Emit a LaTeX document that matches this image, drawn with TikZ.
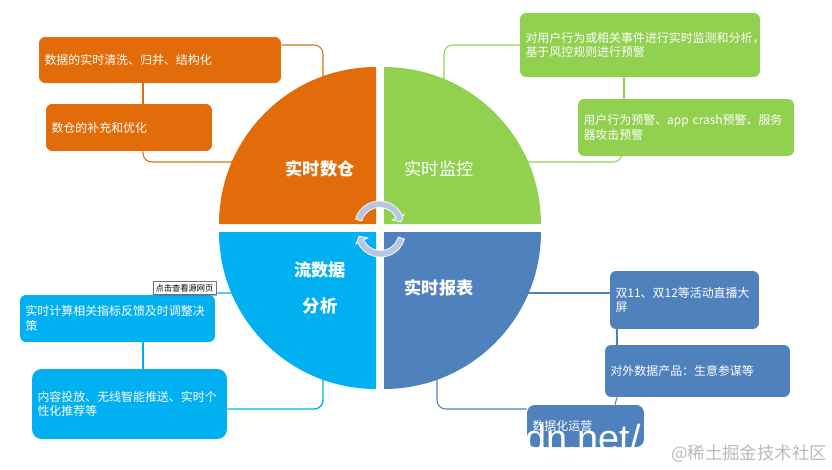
\documentclass[tikz,border=0pt]{standalone}
\usepackage{fontspec}
\setmainfont{Noto Sans CJK SC}
\newfontfamily\latinfont{Liberation Sans}
\usepackage{tikz}
\usetikzlibrary{calc,positioning,shadows}
\definecolor{cangorange}{HTML}{E36C0A}
\definecolor{jiankonggreen}{HTML}{92D050}
\definecolor{fenxiblue}{HTML}{00B0F0}
\definecolor{baobiaoblue}{HTML}{4F81BD}
\definecolor{cyclegray}{HTML}{B8C6E0}
\pgfdeclarelayer{background}
\pgfsetlayers{background,main}
\tikzset{
    topicbox/.style={
        rectangle,
        rounded corners=3.5pt,
        inner xsep=0.11cm,
        inner ysep=0pt,
        align=left,
        text=white,
        font={\fontsize{6.8pt}{8.2pt}\selectfont}
    },
    hublabel/.style={
        text=white,
        align=center,
        font={\fontsize{9.8pt}{12pt}\selectfont}
    },
    link/.style={draw, rounded corners=5pt, line width=0.6pt},
    cyclearrow/.style={fill=cyclegray, draw=white, line width=0.4pt},
}

\begin{document}
\begin{tikzpicture}[x=0.02cm,y=-0.02cm]
\useasboundingbox (0,0) rectangle (832,470);

% four quarters
\fill[cangorange] (376,224) -- (219,224) arc[start angle=180,end angle=270,radius=157] -- cycle;
\fill[jiankonggreen] (384,224) -- (384,67) arc[start angle=270,end angle=360,radius=157] -- cycle;
\fill[fenxiblue] (376,232) -- (376,389) arc[start angle=90,end angle=180,radius=157] -- cycle;
\fill[baobiaoblue] (384,232) -- (541,232) arc[start angle=0,end angle=90,radius=157] -- cycle;

\node[hublabel] (cang) at (320,169) {\textbf{实时数仓}};
\node[hublabel] (jiankong) at (439,169) {实时监控};
\node[hublabel] (fenxi) at (320,288) {\textbf{流数据}\\[9pt]\textbf{分析}};
\node[hublabel] (baobiao) at (439,288) {\textbf{实时报表}};

% orange side
\node[topicbox,fill=cangorange,text width=4.62cm,minimum height=0.92cm] (cang1) at (160,60) {数据的实时清洗、归并、结构化};
\node[topicbox,fill=cangorange,text width=3.10cm,minimum height=0.94cm] (cang2) at (129,127.5) {数仓的补充和优化};
\coordinate (cangA) at (323,80);
\coordinate (cangB) at (235,162);

% green side
\node[topicbox,fill=jiankonggreen,text width=4.58cm,minimum height=1.28cm] (jiankong1) at (640,45) {对用户行为或相关事件进行实时监测和分析，\\基于风控规则进行预警};
\node[topicbox,fill=jiankonggreen,text width=4.10cm,minimum height=1.14cm] (jiankong2) at (686,127.5) {用户行为预警、app crash预警、服务\\器攻击预警};
\coordinate (jiankongA) at (444,80);
\coordinate (jiankongB) at (525,162);

% blue side
\node[topicbox,fill=fenxiblue,text width=3.68cm,minimum height=0.94cm] (fenxi1) at (117.5,318.5) {实时计算相关指标反馈及时调整决\\策};
\node[topicbox,fill=fenxiblue,rounded corners=5.5pt,text width=3.68cm,minimum height=1.40cm] (fenxi2) at (129.5,404) {内容投放、无线智能推送、实时个\\性化推荐等};
\coordinate (fenxiA) at (235,293);
\coordinate (fenxiB) at (323,378);

% steel blue side
\node[topicbox,fill=baobiaoblue,text width=2.76cm,minimum height=1.16cm] (baobiao1) at (684.5,300) {双11、双12等活动直播大\\屏};
\node[topicbox,fill=baobiaoblue,text width=3.48cm,minimum height=1.04cm] (baobiao2) at (697.5,371) {对外数据产品：生意参谋等};
\node[topicbox,fill=baobiaoblue,rounded corners=4.5pt,text width=2.12cm,minimum height=0.84cm] (baobiao3) at (585.5,426) {数据化运营};
\coordinate (baobiaoA) at (525,293);
\coordinate (baobiaoB) at (437,378);

\begin{pgfonlayer}{background}
\draw[link,cangorange] (cangA) |- (cang1.east |- 0,45);
\draw[link,cangorange] (cang1.south -| 143,0) -- (cang2.north -| 143,0);
\draw[link,cangorange] (cang2.south -| 143,0) |- (cangB);

\draw[link,jiankonggreen] (jiankongA) |- (jiankong1.west |- 0,45);
\draw[link,jiankonggreen] (jiankong1.south -| 624,0) -- (jiankong2.north -| 624,0);
\draw[link,jiankonggreen] (jiankong2.south -| 622,0) |- (jiankongB);

\draw[link,fenxiblue,line width=0.8pt] (fenxi1.north -| 150,0) |- (fenxiA);
\draw[link,fenxiblue,line width=0.8pt] (fenxi1.south -| 143,0) -- (fenxi2.north -| 143,0);
\draw[link,fenxiblue,line width=0.8pt] (fenxiB) |- (fenxi2.east |- 0,409);

\draw[link,baobiaoblue] (baobiaoA) -- (baobiao1.west |- baobiaoA);
\draw[link,baobiaoblue] (baobiao1.south -| 617,0) -- (baobiao2.north -| 617,0);
\draw[link,baobiaoblue] (baobiao2.south -| 617,0) -- (baobiao3.north -| 615,0);
\draw[link,baobiaoblue] (baobiaoB) |- (baobiao3.west |- 0,409);
\end{pgfonlayer}

% two round arrows in the middle
\foreach \turn in {0,180} {
  \begin{scope}[rotate around={\turn:(380,229)}]
    \path[cyclearrow] (355.5,219) arc[start angle=196,end angle=335,radius=25]
      -- (404,214) -- (401,222) -- (392,220)
      -- (396.3,218.2) arc[start angle=335,end angle=196,radius=18.5] -- cycle;
  \end{scope}
}

\node[draw=black!55,fill=white,drop shadow={shadow xshift=0.6pt,shadow yshift=-0.6pt,fill=black!60},inner sep=0pt,minimum width=1.26cm,minimum height=0.26cm,font={\fontsize{4.7pt}{5pt}\selectfont}] (tip) at (184.5,288) {点击查看源网页};

\node[text=white,inner sep=0pt,anchor=base west,font={\latinfont\fontsize{21.5pt}{24pt}\selectfont}] (urlmark) at (525,451) {dn.net/};
\node[text=black!27,inner sep=0pt,font={\fontsize{9.9pt}{12pt}\selectfont}] (juejin) at (749,454) {@稀土掘金技术社区};
\end{tikzpicture}
\end{document}
